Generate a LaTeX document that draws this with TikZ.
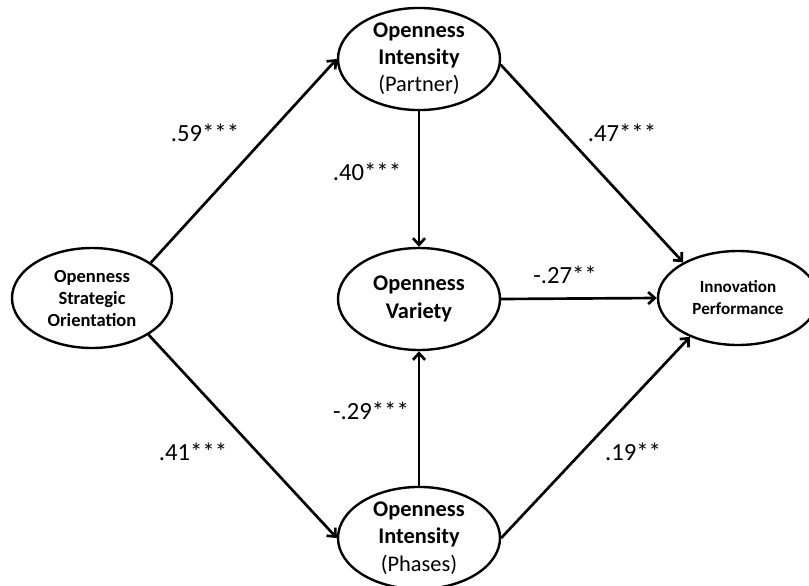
\documentclass[tikz,border=0pt]{standalone}
\usepackage{fontspec}
\setmainfont{Carlito}
\usetikzlibrary{arrows.meta,shapes.geometric}
\begin{document}
\begin{tikzpicture}[x=0.75pt,y=-0.75pt,
  construct/.style={draw, ellipse, line width=1.8pt, inner sep=0pt, align=center,
    font=\bfseries\fontsize{16.8}{20.4}\selectfont},
  smallconstruct/.style={construct, font=\bfseries\fontsize{13.9}{16.5}\selectfont},
  effect/.style={line width=2pt, -{Straight Barb[length=5pt,width=9pt,line width=2pt]}},
  coef/.style={inner sep=0pt, font=\fontsize{18.5}{21}\selectfont}
]
\useasboundingbox (0,0) rectangle (809,585);

% constructs
\node[smallconstruct, minimum width=120pt, minimum height=75pt] (orient) at (92,298)
  {Openness\\Strategic\\Orientation};
\node[construct, minimum width=121.5pt, minimum height=76.5pt] (partner) at (419,59)
  {Openness\\Intensity\\{\mdseries(Partner)}};
\node[construct, minimum width=121.5pt, minimum height=76.5pt] (variety) at (419,299)
  {Openness\\Variety};
\node[construct, minimum width=121.5pt, minimum height=75pt] (phases) at (419,538)
  {Openness\\Intensity\\{\mdseries(Phases)}};
\node[smallconstruct, minimum width=120pt, minimum height=70.5pt,
  font=\bfseries\fontsize{12.8}{16.5}\selectfont] (perf) at (738,298)
  {Innovation\\Performance};

% paths
\draw[effect] (orient.31) -- (partner.west);
\draw[effect] (orient.-33) -- (phases.west);
\draw[effect] (partner.south) -- (variety.north);
\draw[effect] (phases.north) -- (variety.south);
\draw[effect] (partner.-4) -- (perf.147);
\draw[effect] (variety.east) -- (perf.west);
\draw[effect] (phases.east) -- (perf.219);

% path coefficients
\node[coef] (c1) at (205,133) {.59***};
\node[coef] (c2) at (367,172) {.40***};
\node[coef] (c3) at (622,133) {.47***};
\node[coef] (c4) at (565,275) {-.27**};
\node[coef] (c5) at (371,411) {-.29***};
\node[coef] (c6) at (193,452) {.41***};
\node[coef] (c7) at (633,452) {.19**};
\end{tikzpicture}
\end{document}
